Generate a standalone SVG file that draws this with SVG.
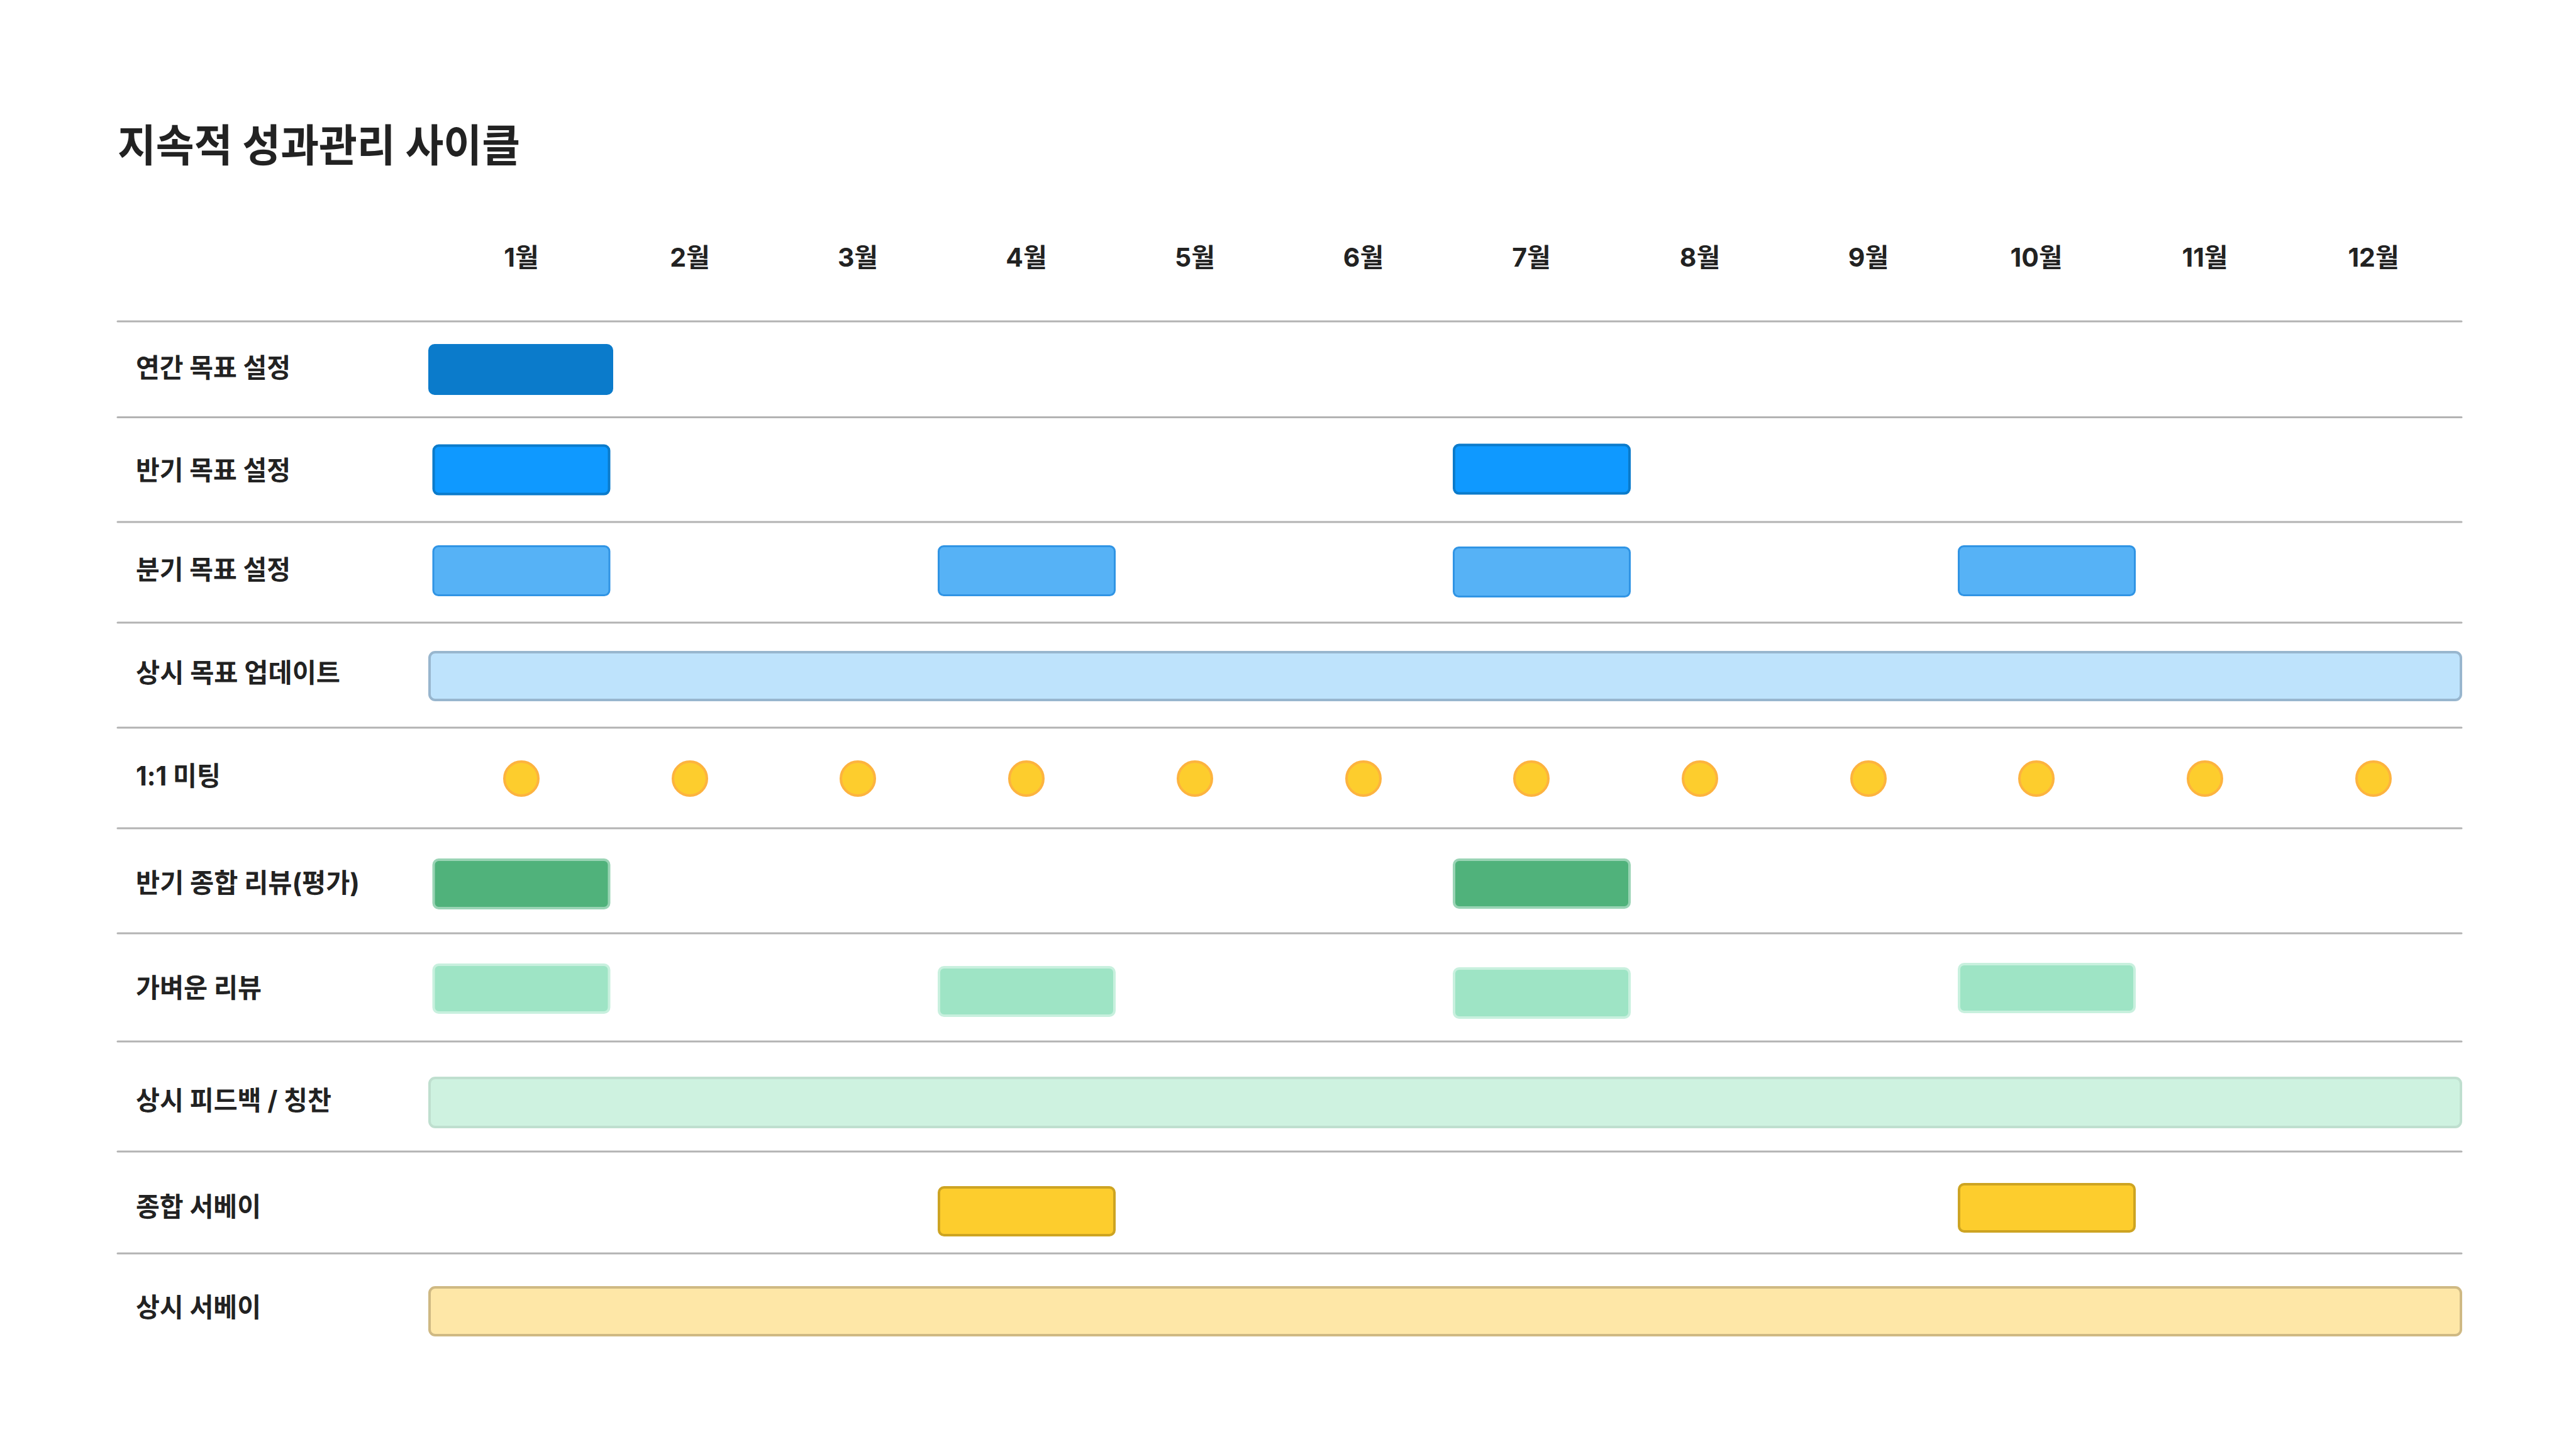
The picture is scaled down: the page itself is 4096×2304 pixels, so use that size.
<svg xmlns="http://www.w3.org/2000/svg" width="4096" height="2304" viewBox="0 0 4096 2304">
<style>
text{font-family:Inter,"Noto Sans CJK KR","Noto Sans",sans-serif;fill:#222222;font-weight:700}
.title{font-size:70px}
.lbl{font-size:42px}
.mon{font-size:41px;text-anchor:middle}
.grid line{stroke:#B3B3B3;stroke-width:3;stroke-linecap:round}
.yr{fill:#0B7BCB;stroke:#0B7BCB;stroke-width:4}
.half{fill:#0F99FF;stroke:#0B7BCB;stroke-width:4}
.qtr{fill:#56B2F6;stroke:#3094E4;stroke-width:3}
.goal{fill:#BEE3FC;stroke:#98B6CE;stroke-width:4}
.dot{fill:#FDCD2D;stroke:#FDB33F;stroke-width:4}
.hrev{fill:#50B27B;stroke:#9AD4B5;stroke-width:4}
.lrev{fill:#9EE4C5;stroke:#C8F0DE;stroke-width:4}
.fb{fill:#CEF2E0;stroke:#BFDFCF;stroke-width:4}
.sv{fill:#FDCD2D;stroke:#CDA422;stroke-width:4}
.asv{fill:#FEE7A7;stroke:#CFB983;stroke-width:4}
</style>
<rect width="4096" height="2304" fill="#FFFFFF"/>
<text id="title" class="title" x="187" y="257" textLength="640" lengthAdjust="spacingAndGlyphs">지속적 성과관리 사이클</text>
<g id="months">
<text class="mon" x="829" y="424">1월</text>
<text class="mon" x="1097" y="424">2월</text>
<text class="mon" x="1364" y="424">3월</text>
<text class="mon" x="1632" y="424">4월</text>
<text class="mon" x="1900" y="424">5월</text>
<text class="mon" x="2168" y="424">6월</text>
<text class="mon" x="2435" y="424">7월</text>
<text class="mon" x="2703" y="424">8월</text>
<text class="mon" x="2971" y="424">9월</text>
<text class="mon" x="3238" y="424">10월</text>
<text class="mon" x="3506" y="424">11월</text>
<text class="mon" x="3774" y="424">12월</text>
</g>
<g id="connectors" class="grid">
<line x1="187" y1="511" x2="3914" y2="511"/>
<line x1="187" y1="663.5" x2="3914" y2="663.5"/>
<line x1="187" y1="830" x2="3914" y2="830"/>
<line x1="187" y1="990" x2="3914" y2="990"/>
<line x1="187" y1="1157" x2="3914" y2="1157"/>
<line x1="187" y1="1317" x2="3914" y2="1317"/>
<line x1="187" y1="1484" x2="3914" y2="1484"/>
<line x1="187" y1="1656" x2="3914" y2="1656"/>
<line x1="187" y1="1831" x2="3914" y2="1831"/>
<line x1="187" y1="1993" x2="3914" y2="1993"/>
</g>
<g id="row-annual-goal">
<text class="lbl" x="216" y="600" textLength="246" lengthAdjust="spacingAndGlyphs">연간 목표 설정</text>
<rect class="yr" x="683" y="549" width="290" height="77" rx="8"/>
</g>
<g id="row-half-goal">
<text class="lbl" x="216" y="763" textLength="246" lengthAdjust="spacingAndGlyphs">반기 목표 설정</text>
<rect class="half" x="689.5" y="708.6" width="279" height="77" rx="8"/>
<rect class="half" x="2312" y="707.6" width="279" height="77" rx="8"/>
</g>
<g id="row-quarter-goal">
<text class="lbl" x="216" y="921" textLength="246" lengthAdjust="spacingAndGlyphs">분기 목표 설정</text>
<rect class="qtr" x="689" y="868.5" width="280" height="78" rx="8"/>
<rect class="qtr" x="1492.5" y="868.5" width="280" height="78" rx="8"/>
<rect class="qtr" x="2311.5" y="870.5" width="280" height="78" rx="8"/>
<rect class="qtr" x="3114.5" y="868.5" width="280" height="78" rx="8"/>
</g>
<g id="row-goal-update">
<text class="lbl" x="216" y="1085" textLength="325" lengthAdjust="spacingAndGlyphs">상시 목표 업데이트</text>
<rect class="goal" x="683" y="1037" width="3230" height="76" rx="9"/>
</g>
<g id="row-one-on-one">
<text class="lbl" x="216" y="1249" textLength="135" lengthAdjust="spacingAndGlyphs">1:1 미팅</text>
<circle class="dot" cx="829" cy="1238" r="27"/>
<circle class="dot" cx="1097" cy="1238" r="27"/>
<circle class="dot" cx="1364" cy="1238" r="27"/>
<circle class="dot" cx="1632" cy="1238" r="27"/>
<circle class="dot" cx="1900" cy="1238" r="27"/>
<circle class="dot" cx="2168" cy="1238" r="27"/>
<circle class="dot" cx="2435" cy="1238" r="27"/>
<circle class="dot" cx="2703" cy="1238" r="27"/>
<circle class="dot" cx="2971" cy="1238" r="27"/>
<circle class="dot" cx="3238" cy="1238" r="27"/>
<circle class="dot" cx="3506" cy="1238" r="27"/>
<circle class="dot" cx="3774" cy="1238" r="27"/>
</g>
<g id="row-half-review">
<text class="lbl" x="216" y="1419" textLength="356" lengthAdjust="spacingAndGlyphs">반기 종합 리뷰(평가)</text>
<rect class="hrev" x="689.5" y="1367" width="279" height="77" rx="8"/>
<rect class="hrev" x="2312" y="1367" width="279" height="76" rx="8"/>
</g>
<g id="row-light-review">
<text class="lbl" x="216" y="1586" textLength="200" lengthAdjust="spacingAndGlyphs">가벼운 리뷰</text>
<rect class="lrev" x="689.5" y="1534" width="279" height="76" rx="8"/>
<rect class="lrev" x="1493" y="1538" width="279" height="77" rx="8"/>
<rect class="lrev" x="2312" y="1540" width="279" height="78" rx="8"/>
<rect class="lrev" x="3115" y="1533" width="279" height="76" rx="8"/>
</g>
<g id="row-feedback">
<text class="lbl" x="216" y="1765" textLength="311" lengthAdjust="spacingAndGlyphs">상시 피드백 / 칭찬</text>
<rect class="fb" x="683" y="1714" width="3230" height="78" rx="9"/>
</g>
<g id="row-survey">
<text class="lbl" x="216" y="1934" textLength="199" lengthAdjust="spacingAndGlyphs">종합 서베이</text>
<rect class="sv" x="1493" y="1888" width="279" height="76" rx="8"/>
<rect class="sv" x="3115" y="1883" width="279" height="75" rx="8"/>
</g>
<g id="row-pulse-survey">
<text class="lbl" x="216" y="2094" textLength="199" lengthAdjust="spacingAndGlyphs">상시 서베이</text>
<rect class="asv" x="683" y="2047" width="3230" height="76" rx="9"/>
</g>
</svg>
